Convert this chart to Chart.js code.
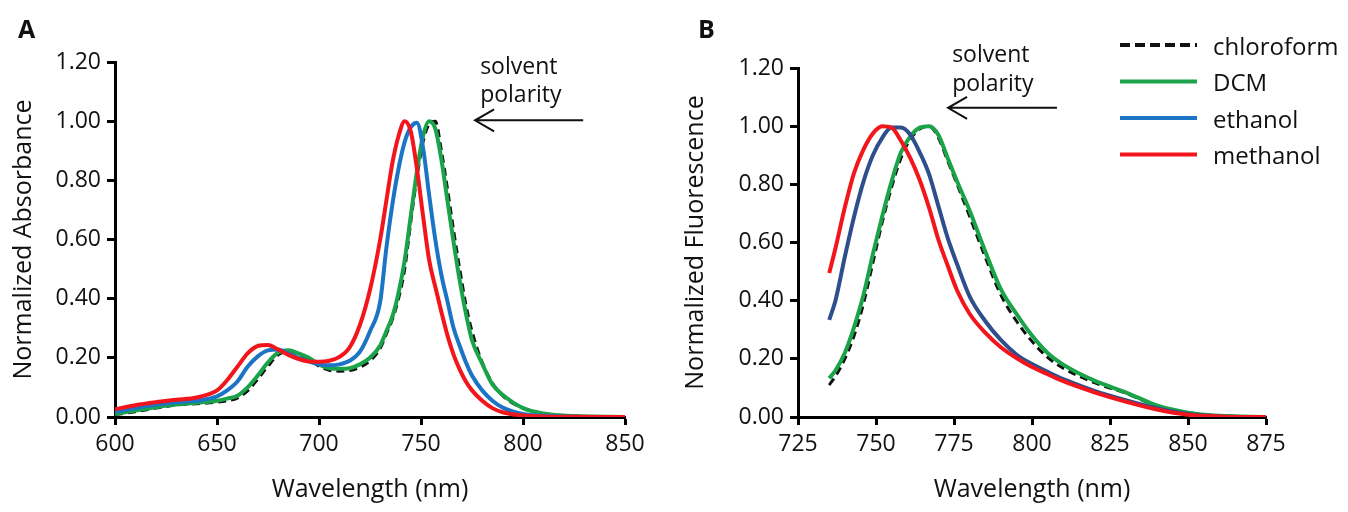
<!DOCTYPE html>
<html>
<head>
<meta charset="utf-8">
<script src="https://cdn.jsdelivr.net/npm/chart.js@4"></script>
<style>
  body { margin: 0; background: #fff; }
  .panel { position: absolute; top: 0; }
  #panelA { left: 0; }
  #panelB { left: 680px; }
</style>
</head>
<body>
<div class="panel" id="panelA"><canvas id="absChart" width="680" height="512"></canvas></div>
<div class="panel" id="panelB"><canvas id="fluoChart" width="668" height="512"></canvas></div>
<script>
// Solvents, drawn bottom to top
const solvents = ['chloroform', 'DCM', 'ethanol', 'methanol'];
const solventColors = ['#111111', '#1ba34a', '#1b74c4', '#f2151b'];

// A: normalized absorbance
const absWavelengths = [600, 610, 620, 630, 640, 650, 655, 660, 665, 670, 675, 680, 685, 690, 695, 700, 705, 710, 715, 720, 725, 730, 733, 736, 739, 742, 745, 748, 751, 754, 757, 760, 763, 766, 769, 772, 775, 780, 785, 790, 800, 810, 825, 850];
const absChloroform = [0.008, 0.018, 0.03, 0.04, 0.045, 0.05, 0.055, 0.064, 0.088, 0.128, 0.172, 0.21, 0.222, 0.212, 0.195, 0.172, 0.158, 0.155, 0.157, 0.168, 0.19, 0.232, 0.28, 0.33, 0.4, 0.5, 0.66, 0.81, 0.93, 0.99, 1.0, 0.9, 0.77, 0.63, 0.5, 0.38, 0.29, 0.185, 0.115, 0.072, 0.03, 0.012, 0.003, 0];
const absDCM = [0.01, 0.022, 0.033, 0.042, 0.048, 0.055, 0.062, 0.072, 0.1, 0.14, 0.185, 0.218, 0.226, 0.215, 0.2, 0.178, 0.165, 0.163, 0.165, 0.178, 0.2, 0.242, 0.29, 0.34, 0.42, 0.53, 0.68, 0.83, 0.95, 1.0, 0.975, 0.87, 0.73, 0.59, 0.46, 0.35, 0.26, 0.18, 0.11, 0.075, 0.03, 0.012, 0.003, 0];
const absEthanol = [0.018, 0.03, 0.042, 0.05, 0.055, 0.07, 0.09, 0.12, 0.17, 0.205, 0.225, 0.228, 0.215, 0.2, 0.188, 0.178, 0.175, 0.178, 0.19, 0.22, 0.29, 0.39, 0.57, 0.72, 0.84, 0.93, 0.98, 0.995, 0.91, 0.75, 0.6, 0.48, 0.39, 0.3, 0.24, 0.185, 0.14, 0.09, 0.055, 0.032, 0.01, 0.004, 0.001, 0];
const absMethanol = [0.026, 0.04, 0.05, 0.058, 0.066, 0.09, 0.125, 0.17, 0.215, 0.24, 0.243, 0.228, 0.21, 0.196, 0.188, 0.187, 0.19, 0.203, 0.235, 0.31, 0.43, 0.6, 0.73, 0.86, 0.95, 1.0, 0.965, 0.84, 0.68, 0.53, 0.44, 0.355, 0.275, 0.21, 0.16, 0.12, 0.09, 0.055, 0.03, 0.016, 0.005, 0.002, 0.001, 0];

// B: normalized fluorescence
const fluoWavelengths = [735, 737, 740, 743, 746, 749, 752, 755, 758, 761, 764, 767, 770, 773, 776, 780, 785, 790, 795, 800, 805, 810, 820, 830, 840, 850, 860, 875];
const fluoChloroform = [0.11, 0.14, 0.2, 0.28, 0.39, 0.53, 0.67, 0.79, 0.89, 0.955, 0.99, 1.0, 0.96, 0.88, 0.8, 0.69, 0.55, 0.42, 0.33, 0.26, 0.205, 0.168, 0.118, 0.082, 0.038, 0.015, 0.004, 0];
const fluoDCM = [0.133, 0.16, 0.22, 0.31, 0.42, 0.56, 0.69, 0.81, 0.91, 0.965, 0.995, 1.0, 0.97, 0.89, 0.81, 0.71, 0.57, 0.44, 0.355, 0.28, 0.22, 0.18, 0.125, 0.085, 0.04, 0.015, 0.004, 0];
const fluoEthanol = [0.334, 0.4, 0.55, 0.69, 0.81, 0.9, 0.96, 0.995, 0.995, 0.97, 0.91, 0.835, 0.725, 0.615, 0.525, 0.415, 0.33, 0.265, 0.215, 0.182, 0.155, 0.13, 0.09, 0.058, 0.03, 0.01, 0.002, 0];
const fluoMethanol = [0.495, 0.58, 0.72, 0.84, 0.92, 0.975, 1.0, 0.995, 0.95, 0.89, 0.815, 0.72, 0.61, 0.52, 0.435, 0.355, 0.29, 0.24, 0.203, 0.172, 0.147, 0.123, 0.085, 0.053, 0.026, 0.008, 0.002, 0];

const yTicks = [0, 0.2, 0.4, 0.6, 0.8, 1.0, 1.2];

Chart.defaults.font.family = '"Open Sans", sans-serif';
Chart.defaults.color = '#111';

function makeDatasets(xs, series, colors) {
  return series.map((ys, i) => ({
    label: solvents[i],
    data: xs.map((x, j) => ({ x: x, y: ys[j] })),
    borderColor: colors[i],
    borderWidth: i === 0 ? 3 : 4,
    borderDash: i === 0 ? [8, 5] : [],
    pointRadius: 0,
    fill: false,
    cubicInterpolationMode: 'monotone',
    order: series.length - i
  }));
}

function makeOptions(xMin, xMax, xStep, yTitle, yWidth, pad, yTitlePad) {
  return {
    responsive: false,
    animation: false,
    layout: { padding: pad },
    plugins: { legend: { display: false }, tooltip: { enabled: false } },
    scales: {
      x: {
        type: 'linear', min: xMin, max: xMax,
        afterFit: (s) => { s.height = 95; },
        afterBuildTicks: (s) => {
          const t = [];
          for (let v = xMin; v <= xMax; v += xStep) t.push({ value: v });
          s.ticks = t;
        },
        ticks: { font: { size: 23 }, color: '#111', padding: 6, maxRotation: 0 },
        grid: { drawOnChartArea: false, tickLength: 8, tickWidth: 3, tickColor: '#000' },
        border: { display: true, width: 3, color: '#000' },
        title: { display: true, text: 'Wavelength (nm)', font: { size: 25 }, color: '#111', padding: { top: 0, bottom: 7 } }
      },
      y: {
        min: 0, max: 1.2,
        afterFit: (s) => { s.width = yWidth; },
        afterBuildTicks: (s) => { s.ticks = yTicks.map(v => ({ value: v })); },
        ticks: { font: { size: 23 }, color: '#111', padding: 6, callback: (v) => Number(v).toFixed(2) },
        grid: { drawOnChartArea: false, tickLength: 8, tickWidth: 3, tickColor: '#000' },
        border: { display: true, width: 3, color: '#000' },
        title: { display: true, text: yTitle, font: { size: 25 }, color: '#111', padding: { top: yTitlePad, bottom: 0 } }
      }
    }
  };
}

// "solvent polarity" note with arrow, plus panel letter
const notePlugin = {
  id: 'note',
  afterDraw(chart, args, o) {
    const { ctx, scales: { x, y } } = chart;
    ctx.save();
    ctx.fillStyle = '#111';
    ctx.strokeStyle = '#111';
    ctx.textAlign = 'left';
    ctx.textBaseline = 'alphabetic';
    ctx.font = '23px "Open Sans"';
    const tx = x.getPixelForValue(o.textX);
    ctx.fillText('solvent', tx, y.getPixelForValue(o.line1Y));
    ctx.fillText('polarity', tx, y.getPixelForValue(o.line2Y));
    const a0 = x.getPixelForValue(o.arrowFrom);
    const a1 = x.getPixelForValue(o.arrowTo);
    const ay = y.getPixelForValue(o.arrowY);
    ctx.lineWidth = 2;
    ctx.beginPath();
    ctx.moveTo(a0, ay); ctx.lineTo(a1, ay);
    ctx.moveTo(a1 + 19, ay - 11); ctx.lineTo(a1, ay); ctx.lineTo(a1 + 19, ay + 11);
    ctx.stroke();
    ctx.font = 'bold 25px "Open Sans"';
    ctx.fillText(o.letter, o.letterX, 38);

    if (o.legend) {
      ctx.font = '24px "Open Sans"';
      ctx.textBaseline = 'middle';
      solvents.forEach((name, i) => {
        const ly = 45 + i * 36.5;
        ctx.strokeStyle = solventColors[i];
        ctx.lineWidth = 4;
        ctx.setLineDash(i === 0 ? [10, 5] : []);
        ctx.beginPath();
        ctx.moveTo(440, ly); ctx.lineTo(517, ly);
        ctx.stroke();
        ctx.setLineDash([]);
        ctx.fillText(name, 533, ly + 3);
      });
    }
    ctx.restore();
  }
};

const absOptions = makeOptions(600, 850, 50, 'Normalized Absorbance', 115, { top: 62, right: 55, left: 0, bottom: 0 }, 9);
absOptions.plugins.note = { textX: 779, line1Y: 1.159, line2Y: 1.064, arrowFrom: 829.5, arrowTo: 776.5, arrowY: 1.003, letter: 'A', letterX: 18 };

new Chart(document.getElementById('absChart'), {
  type: 'line',
  data: { datasets: makeDatasets(absWavelengths, [absChloroform, absDCM, absEthanol, absMethanol], solventColors) },
  options: absOptions,
  plugins: [notePlugin]
});

const fluoColors = ['#111111', '#1ba34a', '#2e4f8c', '#f2151b'];
const fluoOptions = makeOptions(725, 875, 25, 'Normalized Fluorescence', 118, { top: 68, right: 82, left: 0, bottom: 0 }, 1);
fluoOptions.plugins.note = { textX: 774.4, line1Y: 1.221, line2Y: 1.121, arrowFrom: 808, arrowTo: 773.1, arrowY: 1.063, letter: 'B', letterX: 18, legend: true };

new Chart(document.getElementById('fluoChart'), {
  type: 'line',
  data: { datasets: makeDatasets(fluoWavelengths, [fluoChloroform, fluoDCM, fluoEthanol, fluoMethanol], fluoColors) },
  options: fluoOptions,
  plugins: [notePlugin]
});
</script>
</body>
</html>
